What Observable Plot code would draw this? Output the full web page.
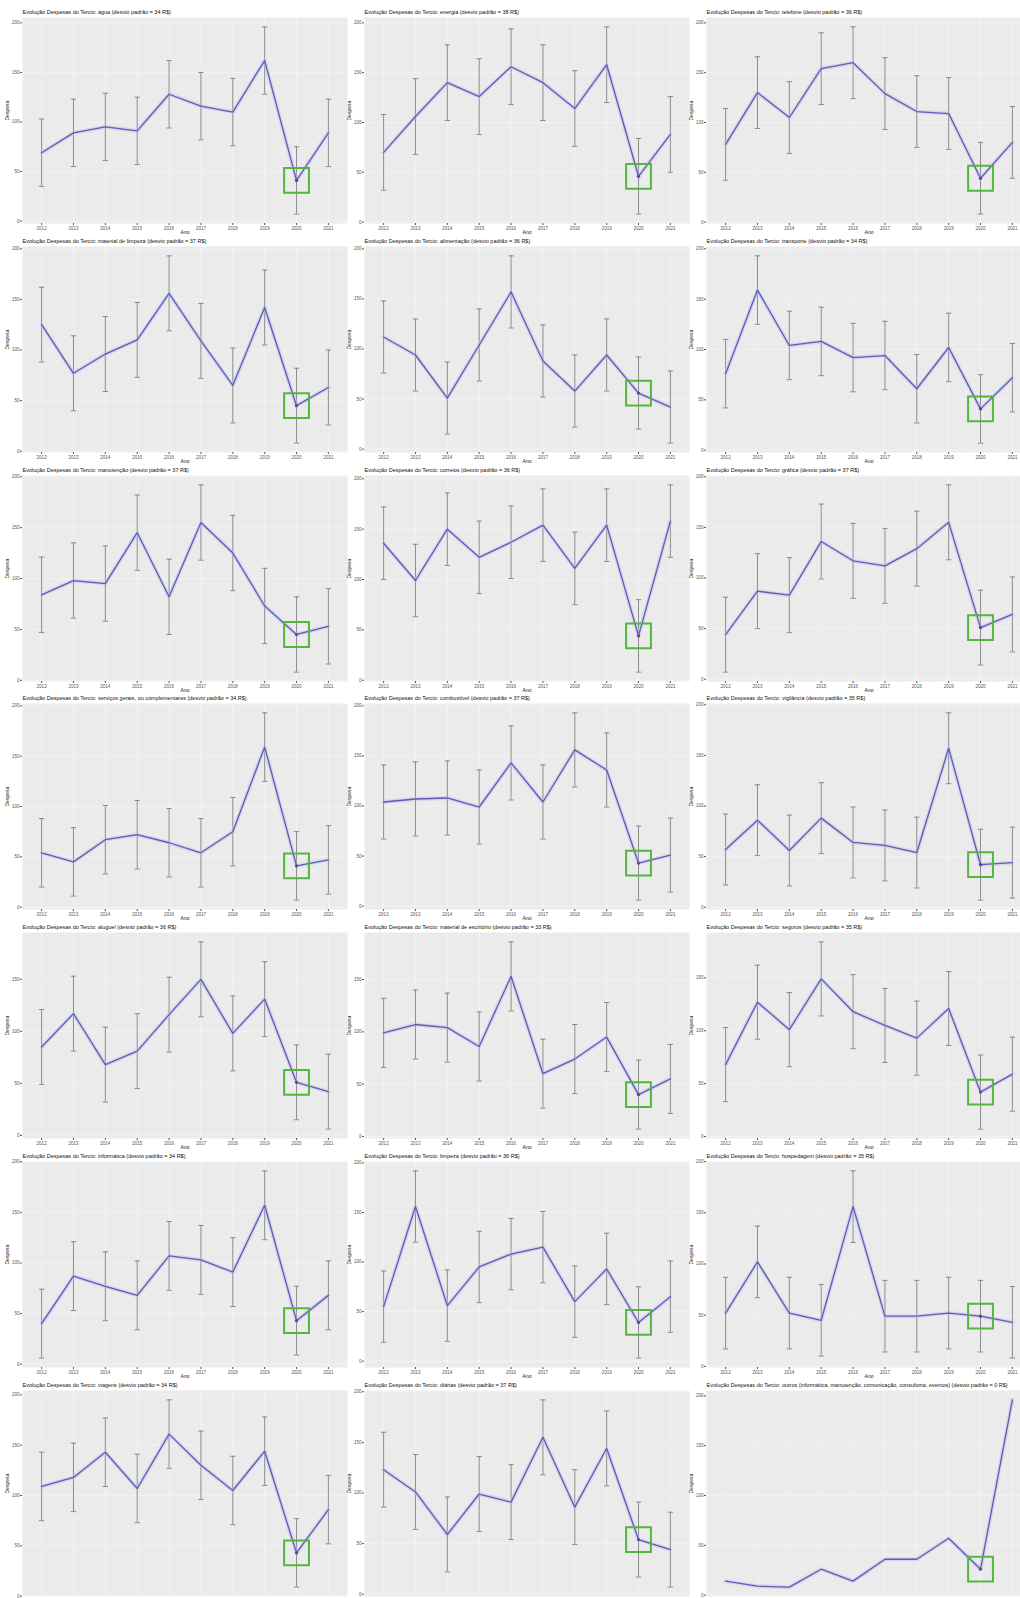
<!DOCTYPE html>
<html><head><meta charset="utf-8">
<script src="https://cdn.jsdelivr.net/npm/d3@7"></script>
<script src="https://cdn.jsdelivr.net/npm/@observablehq/plot@0.6"></script>
<style>
body{margin:0;background:#fff;font-family:"Liberation Sans",Arial,sans-serif;}
#grid{position:relative;width:1020px;height:1598px;overflow:hidden;background:#fff;}
#grid svg{position:absolute;overflow:visible;background:transparent;}
</style></head><body><div id="grid"></div>
<script>
const years = [2012, 2013, 2014, 2015, 2016, 2017, 2018, 2019, 2020, 2021];
const highlightYear = 2020;
const categories = [
  "água", "energia", "telefone",
  "material de limpeza", "alimentação", "transporte",
  "manutenção", "correios", "gráfica",
  "serviços gerais, ou complementares", "combustível", "vigilância",
  "aluguel", "material de escritório", "seguros",
  "informática", "limpeza", "hospedagem",
  "viagens", "diárias", "outros (informática, manutenção, comunicação, consultoria, eventos)"
];
const panelSd = [34, 38, 36, 37, 36, 34, 37, 36, 37, 34, 37, 35, 36, 33, 35, 34, 36, 35, 34, 37, 0];
const panelMeans = [
  [69, 89, 95, 91, 128, 116, 110, 162, 41, 89],
  [70, 106, 140, 126, 156, 140, 114, 158, 46, 88],
  [78, 130, 105, 154, 160, 129, 111, 109, 44, 80],
  [125, 77, 96, 110, 156, 109, 65, 142, 45, 63],
  [112, 94, 51, 104, 157, 88, 58, 94, 56, 42],
  [76, 159, 104, 108, 92, 94, 61, 102, 41, 72],
  [84, 98, 95, 145, 82, 155, 125, 73, 45, 53],
  [136, 99, 150, 122, 137, 154, 111, 154, 44, 158],
  [44, 87, 83, 136, 117, 112, 129, 155, 51, 64],
  [54, 45, 67, 72, 64, 54, 75, 159, 41, 47],
  [104, 107, 108, 99, 143, 104, 156, 136, 43, 51],
  [57, 86, 56, 88, 64, 61, 54, 157, 42, 44],
  [85, 117, 68, 81, 116, 150, 98, 131, 51, 42],
  [99, 107, 104, 86, 153, 60, 74, 95, 40, 55],
  [68, 127, 101, 149, 118, 105, 93, 121, 42, 59],
  [40, 87, 77, 68, 107, 103, 91, 157, 43, 68],
  [55, 156, 56, 95, 108, 115, 60, 93, 39, 65],
  [52, 102, 52, 45, 156, 49, 49, 52, 49, 43],
  [109, 118, 143, 107, 161, 130, 105, 144, 43, 86],
  [123, 101, 59, 99, 91, 155, 86, 144, 54, 44],
  [14, 9, 8, 26, 14, 36, 36, 57, 26, 196]
];

const capSymbol = {draw(ctx, size) { const w = Math.sqrt(size) / 2; ctx.moveTo(-w, 0); ctx.lineTo(w, 0); }};
const grid = document.getElementById("grid");
const rowPitch = 228.8, colPitch = 342;

panelMeans.forEach((means, i) => {
  const r = Math.floor(i / 3), c = i % 3;
  const sd = panelSd[i];
  const data = years.map((yr, j) => ({year: yr, mean: means[j], lo: means[j] - sd, hi: means[j] + sd}));
  const lo = d3.min(data, d => d.lo), hi = d3.max(data, d => d.hi);
  const pad = (hi - lo) * 0.05;
  const title = `Evolução Despesas do Tercio: ${categories[i]} (desvio padrão = ${sd} R$)`;
  const hl = data.filter(d => d.year === highlightYear);
  const lastRow = r === 6;
  const marks = [
    Plot.frame({fill: "#ebebeb", stroke: null}),
    Plot.gridY({ticks: 4, stroke: "#fff", strokeOpacity: 0.75, strokeWidth: 0.5}),
    Plot.gridX(years, {stroke: "#fff", strokeOpacity: 0.75, strokeWidth: 0.5}),
    Plot.axisY({ticks: 4, tickSize: 2, tickPadding: 1, fontSize: 4.5, label: null, color: "#555"}),
    Plot.text(["Despesa"], {frameAnchor: "left", dx: -15, rotate: -90, fontSize: 5, fill: "#222"}),
    Plot.text([title], {frameAnchor: "top-left", dy: -5, lineAnchor: "middle", fontSize: 5.5, fill: "#111"})
  ];
  if (!lastRow) {
    marks.push(
      Plot.axisX(years, {tickSize: 2, tickPadding: 1, fontSize: 4.5, label: null, color: "#555", tickFormat: d => String(d)}),
      Plot.text(["Ano"], {frameAnchor: "bottom", dy: 10, fontSize: 5, fill: "#222"})
    );
  }
  if (sd > 0) {
    marks.push(
      Plot.ruleX(data, {x: "year", y1: "lo", y2: "hi", stroke: "#808080", strokeWidth: 0.9}),
      Plot.dot(data, {x: "year", y: "lo", symbol: capSymbol, r: 3, stroke: "#808080", fill: "none", strokeWidth: 0.9}),
      Plot.dot(data, {x: "year", y: "hi", symbol: capSymbol, r: 3, stroke: "#808080", fill: "none", strokeWidth: 0.9})
    );
  }
  marks.push(
    Plot.line(data, {x: "year", y: "mean", stroke: "#c0c0ee", strokeWidth: 4, strokeOpacity: 0.5}),
    Plot.line(data, {x: "year", y: "mean", stroke: "#5c5cb6", strokeWidth: 1.3}),
    Plot.dot(hl, {x: "year", y: "mean", r: 1.6, fill: "#6a3da0", stroke: null}),
    Plot.dot(hl, {x: "year", y: "mean", symbol: "square", r: 14, stroke: "#52b83c", strokeWidth: 2, fill: "none"})
  );
  const svg = Plot.plot({
    width: 343, height: 235,
    marginLeft: 18, marginRight: 0, marginTop: 17, marginBottom: 12,
    style: {background: "transparent", overflow: "visible", fontFamily: "Liberation Sans, Arial, sans-serif"},
    x: {type: "linear", domain: [2011.4, 2021.6], axis: null},
    y: {domain: [lo - pad, hi + pad], axis: null},
    marks
  });
  svg.style.left = (4 + c * colPitch) + "px";
  svg.style.top = (r * rowPitch) + "px";
  grid.appendChild(svg);
});
</script></body></html>
